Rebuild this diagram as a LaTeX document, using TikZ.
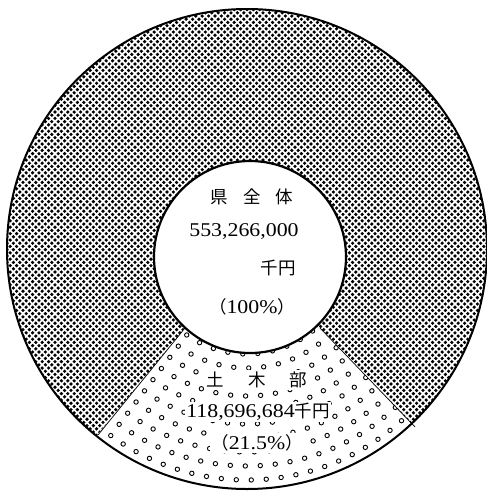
\documentclass[tikz,border=0pt]{standalone}
\usepackage{fontspec}
\setmainfont{Liberation Serif}
\newfontfamily\jp{Noto Sans CJK JP}
\tikzset{
  lbl/.style={fill=white, inner sep=1.5pt, text=black},
  num/.style={lbl, font=\fontsize{19.5}{19.5}\selectfont},
  kan/.style={lbl, font=\jp\fontsize{17.5}{17.5}\selectfont},
  ring/.style={line width=0.9pt},
  edge/.style={line width=0.7pt},
  dotrow/.style={line width=3.6pt, line cap=round, dash pattern=on 0pt off 6.4pt}
}
\newcommand{\widen}[1]{\scalebox{1.12}[1]{#1}}
\newcommand{\jpk}[1]{{\jp\fontsize{17.5}{17.5}\selectfont #1}}
\begin{document}
\begin{tikzpicture}[x=1pt,y=-1pt]
\useasboundingbox (0,0) rectangle (487,491);
\coordinate (O) at (247,249);
\coordinate (I) at (250,257);
\coordinate (L1) at (185,328);
\coordinate (L2) at (98,435);
\coordinate (R1) at (320,328);
\coordinate (R2) at (415,427);
\begin{scope}
  \clip (O) circle (240);
  \foreach \k in {0,...,151} {
    \pgfmathsetmacro\yy{9.6+3.2*\k}
    \pgfmathsetmacro\xs{-9+mod(\k,2)*3.2}
    \draw[dotrow] (\xs,\yy) -- (500,\yy);
  }
  \fill[white] (L1) -- (54,488) -- (54,600) -- (462,600) -- (462,476) -- (R1) -- cycle;
  \clip (L1) -- (54,488) -- (54,600) -- (462,600) -- (462,476) -- (R1) -- cycle;
  \foreach \k in {0,...,9} {
    \pgfmathsetmacro\r{105+14*\k}
    \pgfmathsetmacro\st{15/\r*57.2958}
    \pgfmathsetmacro\off{mod(\k,2)*0.5*\st}
    \pgfmathtruncatemacro\n{110/\st+1}
    \foreach \i in {0,...,\n} {
      \pgfmathsetmacro\a{35+\off+\i*\st}
      \draw[ring] (O) ++(\a:\r) circle (2.2);
    }
  }
\end{scope}
\draw[edge] (L1) -- (L2);
\draw[edge] (R1) -- (R2);
\fill[white] (I) circle (96);
\draw[line width=2.2pt] (I) circle (96);
\draw[line width=2pt] (O) circle (240);
\node[kan] (t1) at (252,197) {県\hspace{15pt}全\hspace{15pt}体};
\node[num] (t2) at (244,232) {\widen{553,266,000}};
\node[kan] (t3) at (278,268) {千円};
\node[num] (t4) at (252,307) {\jpk{（}\widen{100\%}\jpk{）}};
\node[kan] (t5) at (257,380) {土\hspace{24pt}木\hspace{24pt}部};
\node[num] (t6) at (258,412) {\widen{118,696,684}\jpk{千円}};
\node[num] (t7) at (257,443) {\jpk{（}\widen{21.5\%}\jpk{）}};
\end{tikzpicture}
\end{document}
